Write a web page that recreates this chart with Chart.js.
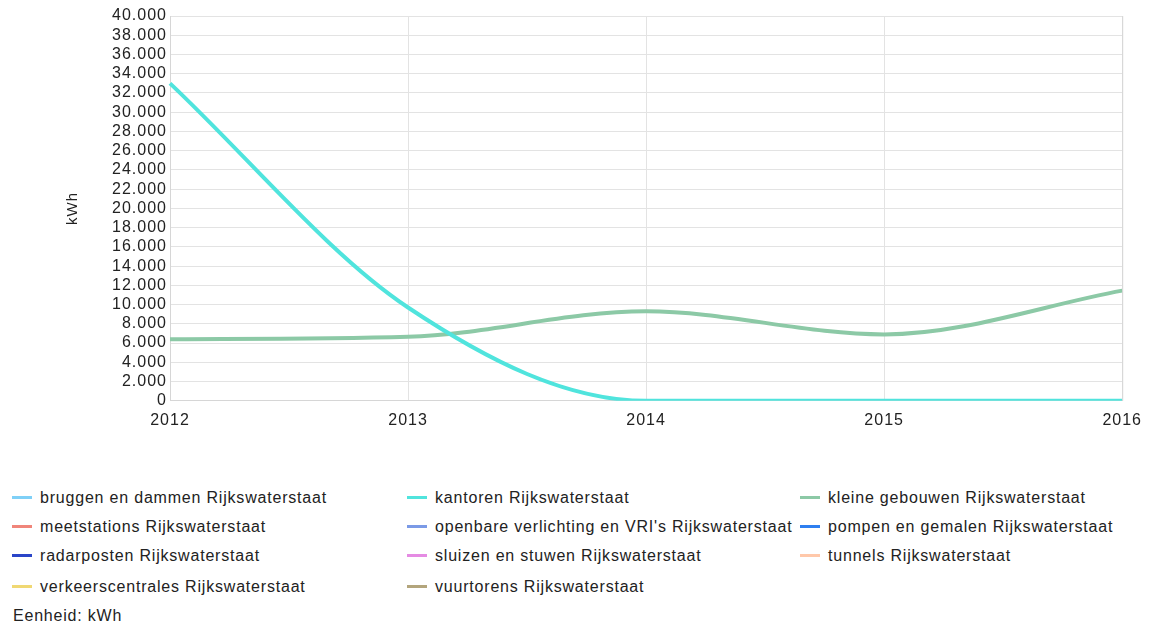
<!DOCTYPE html>
<html>
<head>
<meta charset="utf-8">
<script src="https://cdn.jsdelivr.net/npm/chart.js@4.4.1/dist/chart.umd.min.js"></script>
<style>
  body { margin:0; background:#fff; font-family:"Liberation Sans", Arial, sans-serif; }
  #wrap { position:relative; width:1152px; height:628px; }
  #chartBox { position:absolute; left:0; top:0; width:1152px; height:440px; }
  .leg { position:absolute; font-size:16px; letter-spacing:0.8px; color:#222; white-space:nowrap; line-height:18px; }
  .leg i { display:inline-block; width:20px; height:3px; vertical-align:middle; margin-right:8px; position:relative; top:-1px; }
  #unit { position:absolute; left:13px; top:607px; font-size:16px; letter-spacing:0.8px; color:#222; }
</style>
</head>
<body>
<div id="wrap">
  <div id="chartBox"><canvas id="c"></canvas></div>
  <div id="legend"></div>
  <div id="unit">Eenheid: kWh</div>
</div>
<script>
// years on the x axis
const years = ['2012', '2013', '2014', '2015', '2016'];

// kWh per year, null = no data
const bruggen = [null, null, null, null, null];
const kantoren = [33000, 9700, 0, 0, 0];
const kleineGebouwen = [6400, 6650, 9300, 6900, 11450];
const meetstations = [null, null, null, null, null];
const openbareVerlichting = [null, null, null, null, null];
const pompen = [null, null, null, null, null];
const radarposten = [null, null, null, null, null];
const sluizen = [null, null, null, null, null];
const tunnels = [null, null, null, null, null];
const verkeerscentrales = [null, null, null, null, null];
const vuurtorens = [null, null, null, null, null];

const seriesNames = [
  'bruggen en dammen Rijkswaterstaat', 'kantoren Rijkswaterstaat', 'kleine gebouwen Rijkswaterstaat',
  'meetstations Rijkswaterstaat', "openbare verlichting en VRI's Rijkswaterstaat", 'pompen en gemalen Rijkswaterstaat',
  'radarposten Rijkswaterstaat', 'sluizen en stuwen Rijkswaterstaat', 'tunnels Rijkswaterstaat',
  'verkeerscentrales Rijkswaterstaat', 'vuurtorens Rijkswaterstaat'
];
const seriesData = [bruggen, kantoren, kleineGebouwen, meetstations, openbareVerlichting, pompen,
  radarposten, sluizen, tunnels, verkeerscentrales, vuurtorens];
const seriesColors = ['#7fd0f7', '#50e4dd', '#8cc9a6', '#f0857a', '#7b9ae6', '#2f7ff0',
  '#2a45c8', '#e58be3', '#ffc8aa', '#f0d873', '#b3a57c'];

const yMax = 40000, yStep = 2000;

function nlNumber(v){
  return String(v).replace(/\B(?=(\d{3})+(?!\d))/g, '.');
}

const datasets = seriesNames.map((name, i) => ({
  label: name,
  data: seriesData[i],
  borderColor: seriesColors[i],
  backgroundColor: seriesColors[i],
  borderWidth: 4,
  pointRadius: 0,
  cubicInterpolationMode: 'monotone',
  fill: false,
  order: i === 1 ? 0 : 1 // kantoren on top
}));

const tickFont = { family: 'Liberation Sans', size: 16 };

// wider glyph spacing for axis text
const spacing = {
  id: 'spacing',
  beforeLayout(c){ c.ctx.letterSpacing = '1px'; },
  beforeDraw(c){ c.ctx.letterSpacing = '1px'; }
};

// right frame line of the plot area
const frameRight = {
  id: 'frameRight',
  afterDraw(c){
    const a = c.chartArea, g = c.ctx;
    g.save(); g.strokeStyle = '#d6d6d6'; g.lineWidth = 1;
    g.beginPath(); g.moveTo(a.right + 0.5, a.top); g.lineTo(a.right + 0.5, a.bottom); g.stroke();
    g.restore();
  }
};

const chart = new Chart(document.getElementById('c'), {
  type: 'line',
  data: { labels: years, datasets },
  options: {
    responsive: true,
    maintainAspectRatio: false,
    animation: false,
    layout: { padding: { left: 64, right: 25, top: 16, bottom: 0 } },
    plugins: { legend: { display: false }, tooltip: { enabled: false } },
    scales: {
      x: {
        offset: false,
        grid: { color: '#e3e3e3', drawTicks: false },
        border: { color: '#d6d6d6' },
        ticks: { color: '#222', font: tickFont, padding: 10, maxRotation: 0, autoSkip: false }
      },
      y: {
        min: 0, max: yMax,
        grid: { color: '#e3e3e3', drawTicks: false },
        border: { color: '#d6d6d6' },
        ticks: {
          stepSize: yStep, color: '#222', padding: 3, autoSkip: false,
          font: tickFont,
          callback: v => nlNumber(v)
        },
        title: { display: true, text: 'kWh', color: '#222', font: { family: 'Liberation Sans', size: 15 }, padding: 0 },
        afterFit: s => { s.width = 106; }
      }
    }
  },
  plugins: [spacing, frameRight]
});

// legend in three columns below the chart
const legCols = [12, 407, 800];
const legRows = [489, 518, 547, 578];
const legendEl = document.getElementById('legend');
seriesNames.forEach((name, i) => {
  const el = document.createElement('div');
  el.className = 'leg';
  el.style.left = legCols[i % 3] + 'px';
  el.style.top = legRows[Math.floor(i / 3)] + 'px';
  el.innerHTML = '<i style="background:' + seriesColors[i] + '"></i>' + name;
  legendEl.appendChild(el);
});
</script>
</body>
</html>
